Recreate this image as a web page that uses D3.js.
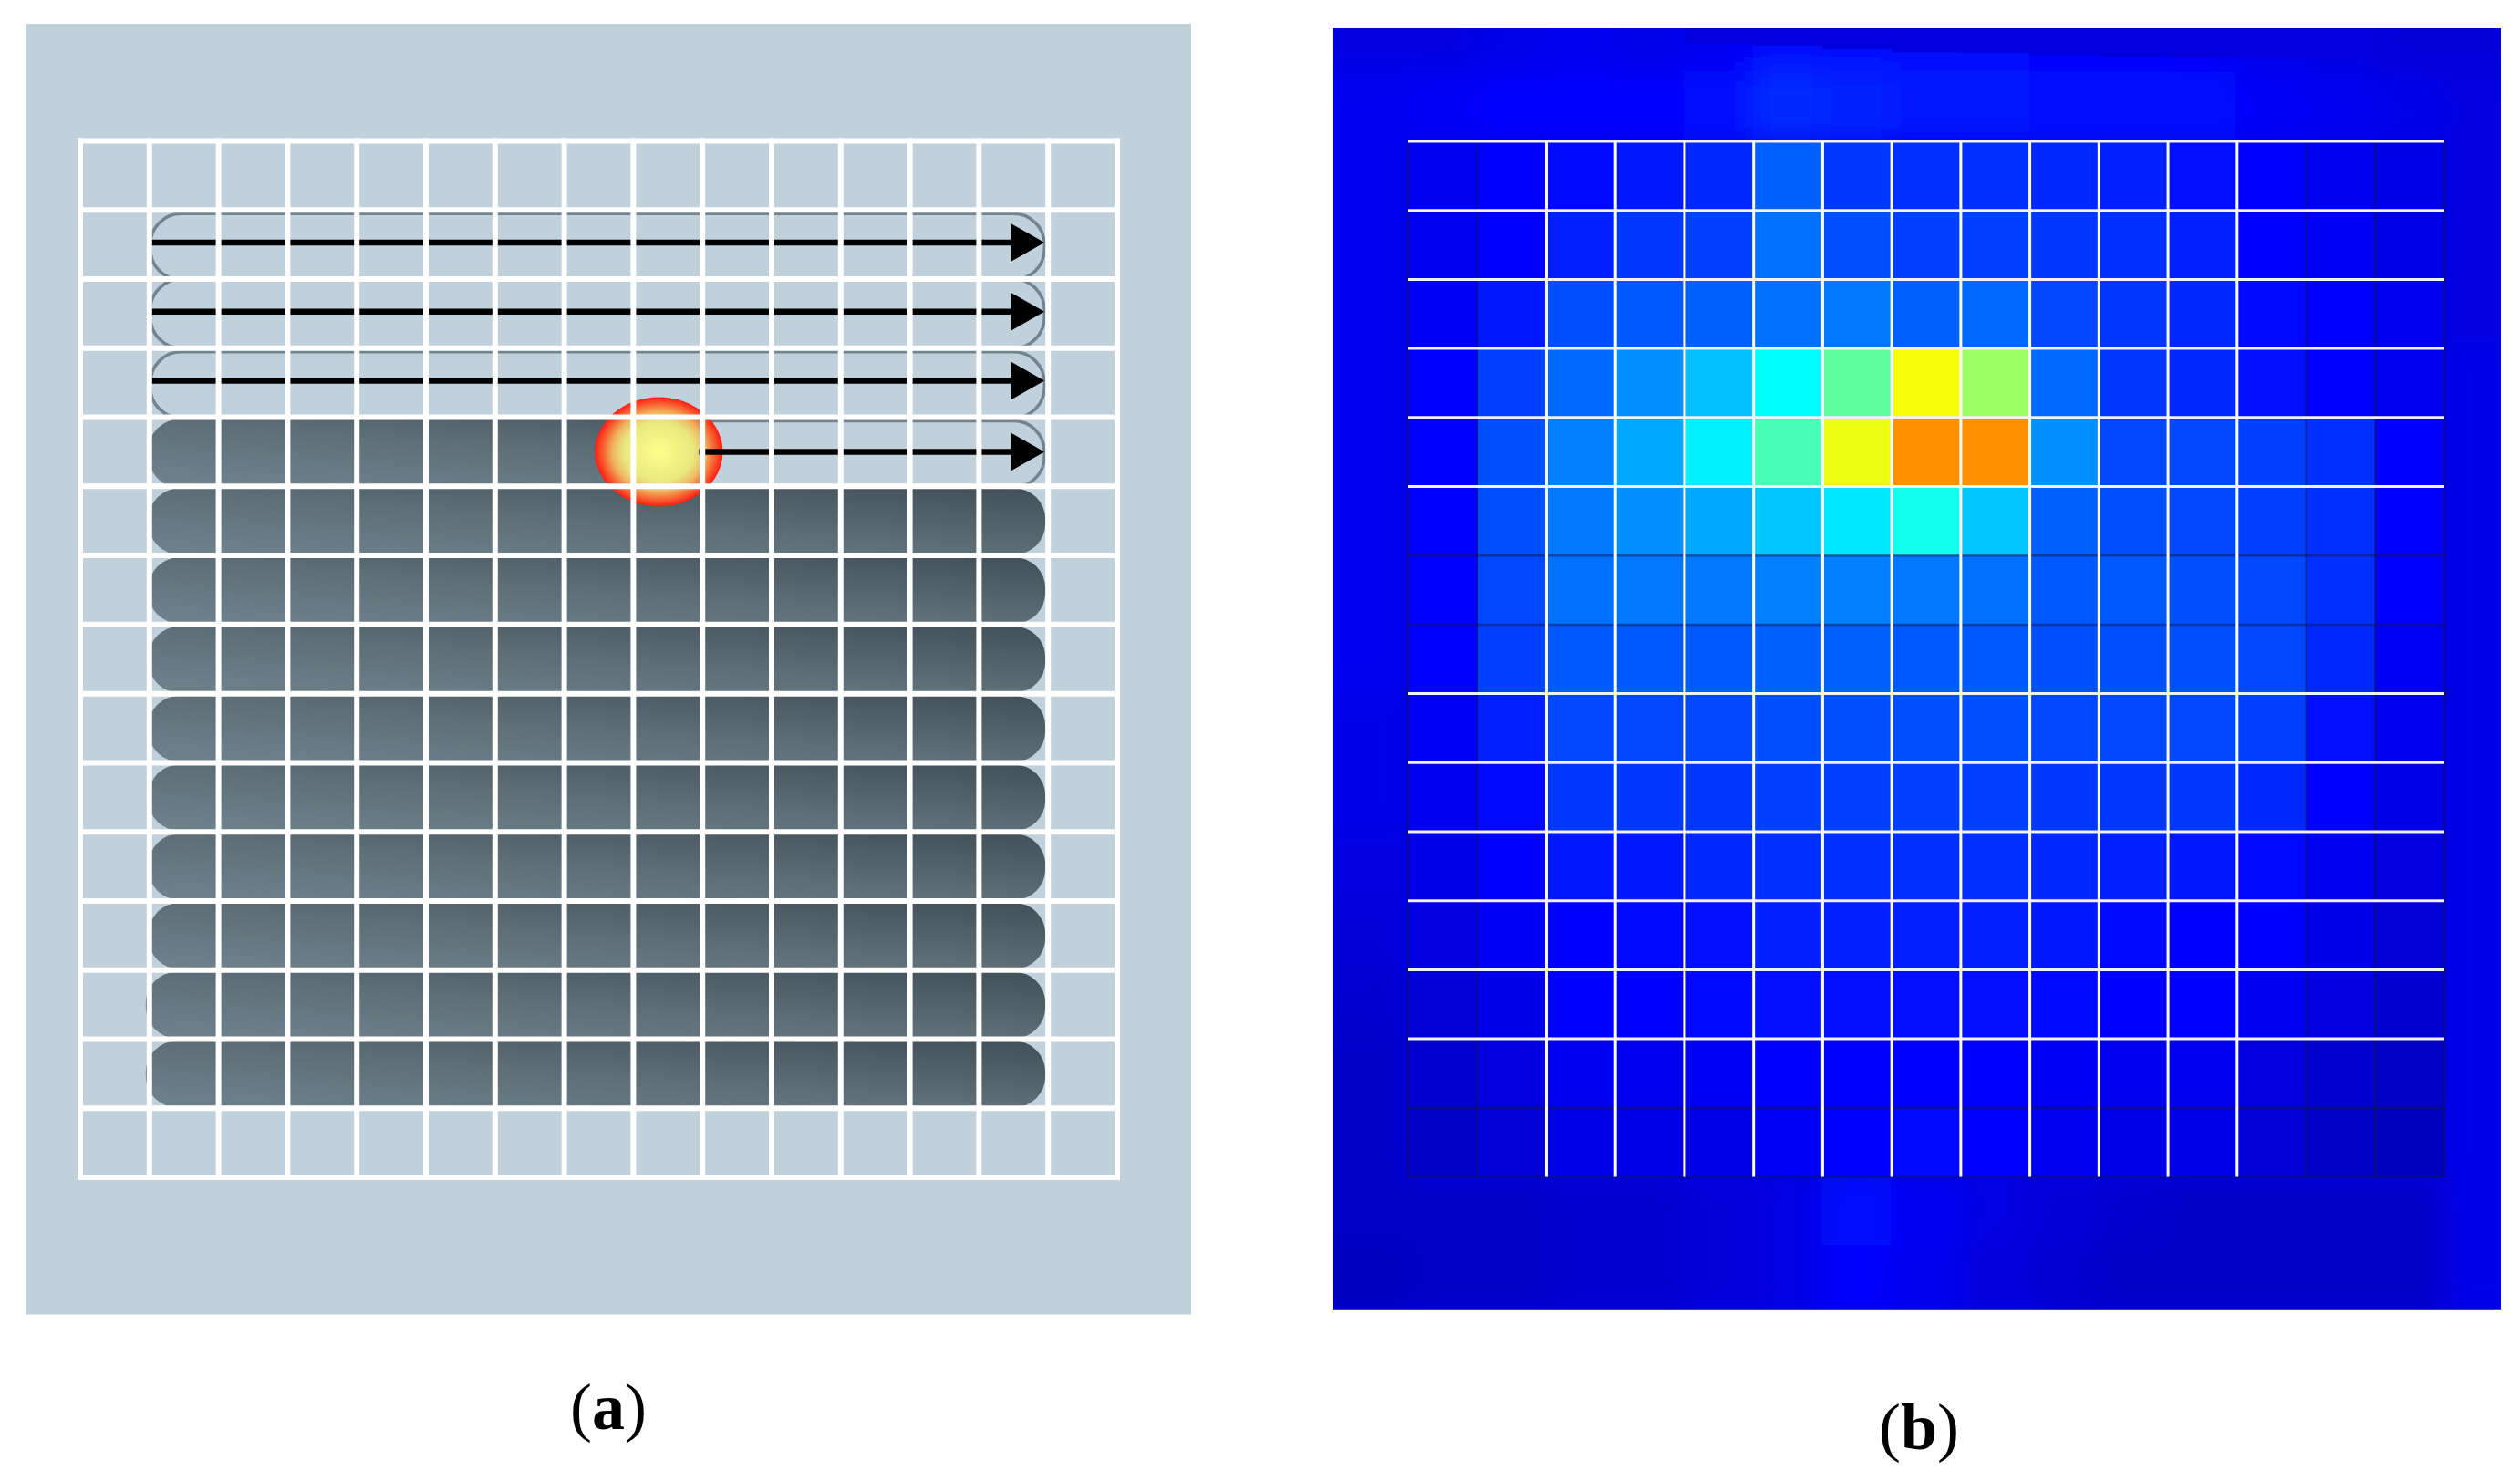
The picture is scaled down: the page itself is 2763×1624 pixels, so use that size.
<!DOCTYPE html>
<html>
<head>
<meta charset="utf-8">
<script src="https://cdn.jsdelivr.net/npm/d3@7"></script>
<style>
  html, body { margin: 0; background: #fff; }
  svg { display: block; }
</style>
</head>
<body>
<div id="chart"></div>
<script>
// grid labels, shared by both panels
const gridCols = d3.range(15);
const gridRows = d3.range(15);

// (a) scan pattern
const scannedRows = [5, 6, 7, 8, 9, 10, 11, 12, 13];
const openRows = [1, 2, 3];
const meltRow = 4;
const pillStartCol = 1;
const pillEndCol = 14;
const meltCol = 8.37;
const arrowRows = [1, 2, 3, 4];
const arrowStartCols = [1, 1, 1, 8.95];
const arrowRowPos = [1.47, 2.47, 3.47, 4.5];

// (b) temperature field, jet position 0..1, row by row
const heatValues = [
  [.097, .11, .118, .134, .149, .204, .165, .157, .157, .149, .141, .126, .11, .097, .09],
  [.097, .11, .141, .165, .173, .22, .188, .173, .173, .165, .157, .141, .11, .104, .09],
  [.104, .134, .188, .196, .204, .22, .228, .204, .212, .18, .165, .149, .118, .11, .097],
  [.11, .173, .212, .251, .298, .36, .465, .63, .53, .212, .165, .149, .126, .11, .097],
  [.11, .188, .235, .275, .345, .44, .62, .749, .749, .251, .18, .18, .173, .157, .11],
  [.11, .188, .228, .251, .275, .306, .338, .38, .306, .204, .188, .18, .173, .157, .11],
  [.11, .18, .22, .228, .228, .235, .235, .228, .22, .196, .196, .188, .18, .157, .11],
  [.11, .173, .196, .196, .196, .204, .204, .196, .196, .188, .188, .188, .18, .149, .104],
  [.104, .141, .18, .18, .18, .188, .188, .188, .188, .18, .18, .18, .173, .126, .097],
  [.097, .118, .165, .165, .165, .173, .173, .173, .173, .165, .165, .165, .149, .11, .09],
  [.09, .11, .134, .134, .149, .157, .157, .157, .157, .149, .141, .134, .118, .097, .083],
  [.083, .104, .11, .118, .126, .141, .141, .141, .141, .134, .118, .11, .11, .09, .076],
  [.076, .09, .11, .11, .118, .126, .126, .126, .126, .118, .11, .11, .097, .083, .069],
  [.069, .083, .097, .097, .104, .11, .11, .11, .11, .104, .097, .097, .083, .069, .062],
  [.062, .076, .09, .09, .09, .104, .11, .118, .11, .097, .09, .09, .076, .062, .055]
];
// surroundings of the grid: columns -1..15 above and below, one value per row at the sides
const heatAbove2 = [.083, .083, .09, .097, .09, .1, .122, .125, .125, .12, .115, .11, .105, .09, .083, .076, .076];
const heatAbove1 = [.097, .104, .11, .11, .11, .125, .15, .141, .134, .134, .126, .126, .118, .105, .097, .09, .083];
const heatBelow1 = [.062, .062, .062, .069, .069, .076, .085, .125, .1, .085, .075, .069, .062, .062, .062, .062, .09];
const heatBelow2 = [.055, .062, .062, .069, .069, .076, .085, .112, .095, .08, .07, .062, .062, .062, .062, .062, .09];
const heatLeft = [.097, .097, .097, .097, .097, .097, .097, .097, .09, .09, .083, .076, .069, .062, .062];
const heatRight = [.083, .083, .083, .09, .09, .09, .09, .09, .09, .09, .09, .09, .09, .09, .09];
// stepped top edge of the warm band above the grid, columns 4..13, in grid rows
const topBandCols = [4, 5, 6, 7, 8, 9, 10, 11, 12, 13];
const topBandEdge = [-1.41, -1.39, -1.33, -1.29, -1.28, -1.25, -1.23, -1.21, -1.2, -1.2];
const topBandValue = .082;

// which grid lines in (b) are drawn white, the rest are dark
const whiteColLines = [2, 3, 4, 5, 6, 7, 8, 9, 10, 11, 12];
const whiteRowLines = [0, 1, 2, 3, 4, 5, 8, 9, 10, 11, 12, 13];

const captions = [
  { panel: "a", x: 667, y: 1567 },
  { panel: "b", x: 2104, y: 1589 }
];

const width = 2763, height = 1624;

const svg = d3.select("#chart").append("svg")
  .attr("width", width)
  .attr("height", height)
  .style("background", "#fff");

const defs = svg.append("defs");

const xa = d3.scaleLinear().domain([0, 15]).range([88, 1225]);
const ya = d3.scaleLinear().domain([0, 15]).range([154.5, 1291]);
const xb = d3.scaleLinear().domain([0, 15]).range([1544, 2680]);
const yb = d3.scaleLinear().domain([0, 15]).range([155, 1290.5]);

const jet = d3.scaleLinear()
  .domain([0, .11, .36, .64, .89, 1])
  .range(["#00007f", "#0000ff", "#00ffff", "#ffff00", "#ff0000", "#7f0000"]);

// ---------- panel (a)
const pa = svg.append("g");
pa.append("rect")
  .attr("x", 28).attr("y", 26)
  .attr("width", 1278).attr("height", 1415.5)
  .attr("fill", "#c1d1dc");

const pillGradWide = defs.append("linearGradient")
  .attr("id", "pillFill")
  .attr("x1", 0).attr("y1", 1).attr("x2", 1).attr("y2", 0);
pillGradWide.append("stop").attr("offset", 0).attr("stop-color", "#70838c");
pillGradWide.append("stop").attr("offset", 0.5).attr("stop-color", "#5d6e77");
pillGradWide.append("stop").attr("offset", 1).attr("stop-color", "#425058");

const pillX = xa(pillStartCol) - 1;
const pillW = xa(pillEndCol) - xa(pillStartCol) - 2;
const pillH = ya(1) - ya(0) - 3;

// rows still to be scanned: only outlines
pa.append("g").selectAll("rect")
  .data(openRows.concat([meltRow]))
  .join("rect")
  .attr("x", pillX + 2)
  .attr("y", d => ya(d) + (d === 2 ? 0 : 4))
  .attr("width", pillW - 3)
  .attr("height", d => d === 2 ? pillH + 3 : pillH)
  .attr("rx", 34).attr("ry", 34)
  .attr("fill", "none")
  .attr("stroke", "#72858f")
  .attr("stroke-width", 3.5);

// rows already scanned
pa.append("g").selectAll("rect")
  .data(scannedRows)
  .join("rect")
  .attr("x", d => pillX - (d >= 12 ? 3 : 0))
  .attr("y", d => ya(d) + 2)
  .attr("width", d => pillW + (d >= 12 ? 3 : 0))
  .attr("height", pillH)
  .attr("rx", 34).attr("ry", 34)
  .attr("fill", "url(#pillFill)");

// current row, solid up to the melt pool
defs.append("clipPath").attr("id", "meltClip")
  .append("rect")
  .attr("x", 0).attr("y", 0)
  .attr("width", xa(meltCol)).attr("height", height);
pa.append("rect")
  .attr("x", pillX)
  .attr("y", ya(meltRow) + 2)
  .attr("width", pillW)
  .attr("height", pillH)
  .attr("rx", 34).attr("ry", 34)
  .attr("fill", "url(#pillFill)")
  .attr("clip-path", "url(#meltClip)");

// melt pool
const poolGrad = defs.append("radialGradient").attr("id", "poolGrad");
[[0, "#ffff8c"], [.55, "#e8e87e"], [.72, "#efb860"], [.86, "#f66a35"], [1, "#ff1e14"]]
  .forEach(s => poolGrad.append("stop").attr("offset", s[0]).attr("stop-color", s[1]));
pa.append("ellipse")
  .attr("cx", xa(meltCol))
  .attr("cy", ya(meltRow + .5))
  .attr("rx", 70).attr("ry", 60)
  .attr("fill", "url(#poolGrad)");

// scan arrows
const arrows = pa.append("g").selectAll("g")
  .data(arrowRows)
  .join("g");
arrows.append("line")
  .attr("x1", (d, i) => xa(arrowStartCols[i]))
  .attr("x2", xa(pillEndCol) - 30)
  .attr("y1", (d, i) => ya(arrowRowPos[i]))
  .attr("y2", (d, i) => ya(arrowRowPos[i]))
  .attr("stroke", "#000")
  .attr("stroke-width", 6.5);
arrows.append("path")
  .attr("d", (d, i) => {
    const tip = xa(pillEndCol) - 4, cy = ya(arrowRowPos[i]);
    return `M${tip},${cy}L${tip - 37},${cy - 21}L${tip - 37},${cy + 21}Z`;
  })
  .attr("fill", "#000");

// white grid on top
const aGrid = pa.append("g").attr("stroke", "#fff").attr("stroke-width", 6);
aGrid.selectAll(".v")
  .data(gridCols.concat([15]))
  .join("line")
  .attr("class", "v")
  .attr("x1", d => xa(d)).attr("x2", d => xa(d))
  .attr("y1", ya(0) - 3).attr("y2", ya(15) + 3);
aGrid.selectAll(".h")
  .data(gridRows.concat([15]))
  .join("line")
  .attr("class", "h")
  .attr("y1", d => ya(d)).attr("y2", d => ya(d))
  .attr("x1", xa(0) - 3).attr("x2", xa(15) + 3);

// ---------- panel (b)
const pb = svg.append("g");
defs.append("clipPath").attr("id", "panelB")
  .append("rect")
  .attr("x", 1461).attr("y", 31)
  .attr("width", 1281).attr("height", 1404.5);
defs.append("filter").attr("id", "soft")
  .attr("x", "-5%").attr("y", "-5%").attr("width", "110%").attr("height", "110%")
  .append("feGaussianBlur").attr("stdDeviation", 16);

const bgCells = [];
heatAbove2.forEach((v, i) => bgCells.push({ c: i - 1, r: -2, v }));
heatAbove1.forEach((v, i) => bgCells.push({ c: i - 1, r: -1, v }));
heatBelow1.forEach((v, i) => bgCells.push({ c: i - 1, r: 15, v }));
heatBelow2.forEach((v, i) => bgCells.push({ c: i - 1, r: 16, v }));
heatLeft.forEach((v, i) => bgCells.push({ c: -1, r: i, v }));
heatRight.forEach((v, i) => bgCells.push({ c: 15, r: i, v }));

const cellW = xb(1) - xb(0), cellH = yb(1) - yb(0);

const pbClip = pb.append("g").attr("clip-path", "url(#panelB)");
pbClip.append("rect")
  .attr("x", 1461).attr("y", 31)
  .attr("width", 1281).attr("height", 1404.5)
  .attr("fill", jet(.085));
pbClip.append("g")
  .attr("filter", "url(#soft)")
  .selectAll("rect")
  .data(bgCells)
  .join("rect")
  .attr("x", d => xb(d.c) - 1)
  .attr("y", d => yb(d.r) - 1)
  .attr("width", d => cellW * (d.c === 15 ? 2 : d.c === -1 ? 2 : 1) + 2)
  .attr("height", cellH + 2)
  .attr("transform", d => d.c === -1 ? `translate(${-cellW},0)` : null)
  .attr("fill", d => jet(d.v));

// the warm band above the grid stops at a hard stepped edge
pbClip.append("g").selectAll("rect")
  .data(topBandCols)
  .join("rect")
  .attr("x", d => xb(d))
  .attr("y", yb(-2))
  .attr("width", cellW + .5)
  .attr("height", (d, i) => yb(topBandEdge[i]) - yb(-2))
  .attr("fill", jet(topBandValue));

const cells = heatValues.flatMap((row, r) => row.map((v, c) => ({ r, c, v })));
pb.append("g").selectAll("rect")
  .data(cells)
  .join("rect")
  .attr("x", d => xb(d.c))
  .attr("y", d => yb(d.r))
  .attr("width", cellW + .5)
  .attr("height", cellH + .5)
  .attr("fill", d => jet(d.v));

const darkLine = "rgba(20,20,70,0.45)";
const bColLines = d3.range(16);
const bRowLines = d3.range(16);

// dark lines first so the white ones cross over them
pb.append("g").selectAll("line")
  .data(bRowLines.filter(d => !whiteRowLines.includes(d)))
  .join("line")
  .attr("x1", xb(0)).attr("x2", xb(15))
  .attr("y1", d => yb(d)).attr("y2", d => yb(d))
  .attr("stroke", darkLine).attr("stroke-width", 2.5);
pb.append("g").selectAll("line")
  .data(bColLines.filter(d => !whiteColLines.includes(d)))
  .join("line")
  .attr("x1", d => xb(d)).attr("x2", d => xb(d))
  .attr("y1", yb(0)).attr("y2", yb(15))
  .attr("stroke", darkLine).attr("stroke-width", 2.5);
pb.append("g").selectAll("line")
  .data(whiteRowLines)
  .join("line")
  .attr("x1", xb(0)).attr("x2", xb(15))
  .attr("y1", d => yb(d)).attr("y2", d => yb(d))
  .attr("stroke", "#f3f0ff").attr("stroke-width", 3);
pb.append("g").selectAll("line")
  .data(whiteColLines)
  .join("line")
  .attr("x1", d => xb(d)).attr("x2", d => xb(d))
  .attr("y1", yb(0)).attr("y2", yb(15))
  .attr("stroke", "#fff").attr("stroke-width", 3);

// ---------- captions
const captionText = svg.append("g").selectAll("text")
  .data(captions)
  .join("text")
  .attr("x", d => d.x)
  .attr("y", d => d.y)
  .attr("text-anchor", "middle")
  .attr("font-family", "'Liberation Serif', serif")
  .attr("font-size", 72)
  .attr("fill", "#000");
captionText.append("tspan").text("(");
captionText.append("tspan").attr("font-weight", "bold").text(d => d.panel);
captionText.append("tspan").text(")");
</script>
</body>
</html>
